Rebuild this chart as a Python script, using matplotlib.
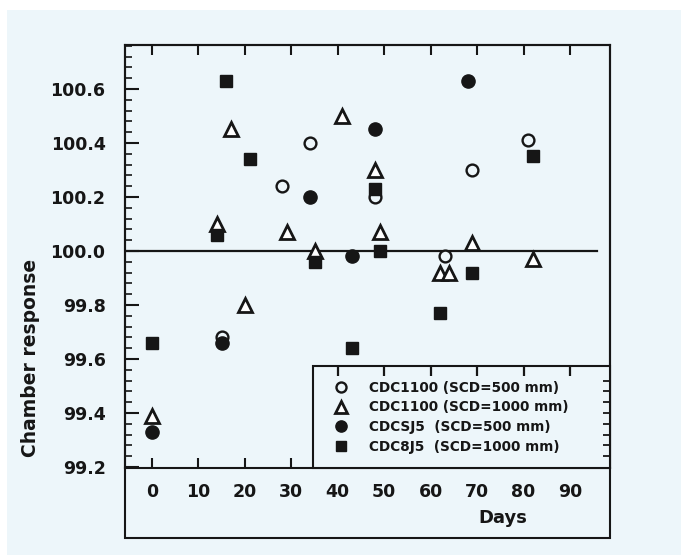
import numpy as np
import matplotlib
matplotlib.use("Agg")
import matplotlib.pyplot as plt
from matplotlib.patches import Rectangle
from matplotlib.ticker import MultipleLocator

# data
cdc1100_500_days = [15, 28, 34, 48, 63, 69, 81]
cdc1100_500_resp = [99.68, 100.24, 100.40, 100.20, 99.98, 100.30, 100.41]

cdc1100_1000_days = [0, 14, 17, 20, 29, 35, 41, 48, 49, 62, 64, 69, 82]
cdc1100_1000_resp = [99.39, 100.10, 100.45, 99.80, 100.07, 100.00, 100.50,
                     100.30, 100.07, 99.92, 99.92, 100.03, 99.97]

cdcsj5_500_days = [0, 15, 34, 43, 48, 68]
cdcsj5_500_resp = [99.33, 99.66, 100.20, 99.98, 100.45, 100.63]

cdc8j5_1000_days = [0, 14, 16, 21, 35, 43, 48, 49, 62, 69, 82]
cdc8j5_1000_resp = [99.66, 100.06, 100.63, 100.34, 99.96, 99.64, 100.23,
                    100.00, 99.77, 99.92, 100.35]

labels = ["CDC1100 (SCD=500 mm)", "CDC1100 (SCD=1000 mm)",
          "CDCSJ5  (SCD=500 mm)", "CDC8J5  (SCD=1000 mm)"]
xticks = list(range(0, 100, 10))
yticks = [99.2, 99.4, 99.6, 99.8, 100.0, 100.2, 100.4, 100.6]

bg = "#edf6fa"
ink = "#161616"

fig = plt.figure(figsize=(6.81, 5.55), dpi=100, facecolor="white")
fig.patches.append(Rectangle((7 / 681, 0), 1, 1 - 10 / 555, transform=fig.transFigure,
                             facecolor=bg, edgecolor="none", zorder=-10))
ax = fig.add_axes([125 / 681, 1 - 468 / 555, 485 / 681, 423 / 555])
ax.set_facecolor(bg)

ms = 8.5
ax.plot(cdc1100_500_days, cdc1100_500_resp, ls="none", marker="o", ms=ms,
        mfc=bg, mec=ink, mew=1.7, label=labels[0], zorder=4)
ax.plot(cdc1100_1000_days, cdc1100_1000_resp, ls="none", marker="^", ms=ms + 1,
        mfc="white", mec=ink, mew=2.0, label=labels[1], zorder=4)
ax.plot(cdcsj5_500_days, cdcsj5_500_resp, ls="none", marker="o", ms=ms + 1,
        mfc=ink, mec=ink, label=labels[2], zorder=4)
ax.plot(cdc8j5_1000_days, cdc8j5_1000_resp, ls="none", marker="s", ms=ms,
        mfc=ink, mec=ink, label=labels[3], zorder=4)

ax.axhline(100.0, xmax=0.973, color=ink, lw=1.6, zorder=3)

ax.set_xlim(-5.8, 98.6)
ax.set_ylim(99.196, 100.763)
ax.set_xticks(xticks)
ax.set_yticks(yticks)
ax.set_yticklabels([f"{v:.1f}" for v in yticks])
ax.yaxis.set_minor_locator(MultipleLocator(0.04))
ax.tick_params(axis="x", direction="in", length=7, width=1.5, top=True,
               labelsize=12.5, pad=11, colors=ink)
ax.tick_params(axis="y", which="major", direction="in", length=10, width=1.5,
               labelsize=12.5, pad=14, colors=ink)
ax.tick_params(axis="y", which="minor", direction="in", length=5, width=1.2,
               colors=ink)
for lab in ax.get_xticklabels() + ax.get_yticklabels():
    lab.set_fontweight("bold")
for sp in ax.spines.values():
    sp.set_linewidth(1.5)
    sp.set_color(ink)

# outer box continues below the x axis around the labels
ext = 70 / 423
ax.add_patch(Rectangle((0, -ext), 1, 1 + ext, transform=ax.transAxes, fill=False,
                       lw=1.5, edgecolor=ink, clip_on=False, zorder=5))

ax.set_ylabel("Chamber response", fontsize=13.5, fontweight="bold", color=ink)
ax.yaxis.set_label_coords(-0.175, 0.26)
ax.text(0.78, -0.118, "Days", transform=ax.transAxes, ha="center", va="center",
        fontsize=13, fontweight="bold", color=ink)

x0 = (313 - 125) / 485
leg = ax.legend(loc="lower left", bbox_to_anchor=(x0, 0, 1 - x0, 0.2), mode="expand",
                borderaxespad=0, numpoints=1, fancybox=False, framealpha=1,
                facecolor=bg, edgecolor=ink, prop={"size": 9.8, "weight": "bold"},
                labelspacing=0.42, borderpad=1.05, handlelength=2.0, handletextpad=1.1,
                markerscale=0.85)
leg.get_frame().set_linewidth(1.5)
leg.set_zorder(6)
for t in leg.get_texts():
    t.set_color(ink)

# small ticks along the top and right edges of the legend box
fig.canvas.draw()
bb = leg.get_window_extent().transformed(ax.transAxes.inverted())
top = bb.y1
top_days = [d for d in xticks
            if ax.transLimits.transform((d, 100))[0] > bb.x0 + 0.02]
ax.vlines(top_days, top - 0.022, top + 0.003, transform=ax.get_xaxis_transform(),
          colors=ink, lw=1.6, zorder=7, clip_on=False)
right_vals = [v for v in np.arange(99.24, 99.6, 0.04)
              if ax.transLimits.transform((0, v))[1] < top - 0.02]
ax.hlines(right_vals, 1 - 0.014, 1, transform=ax.get_yaxis_transform(),
          colors=ink, lw=1.3, zorder=7, clip_on=False)

fig.savefig("out.png", dpi=100, facecolor=fig.get_facecolor())
